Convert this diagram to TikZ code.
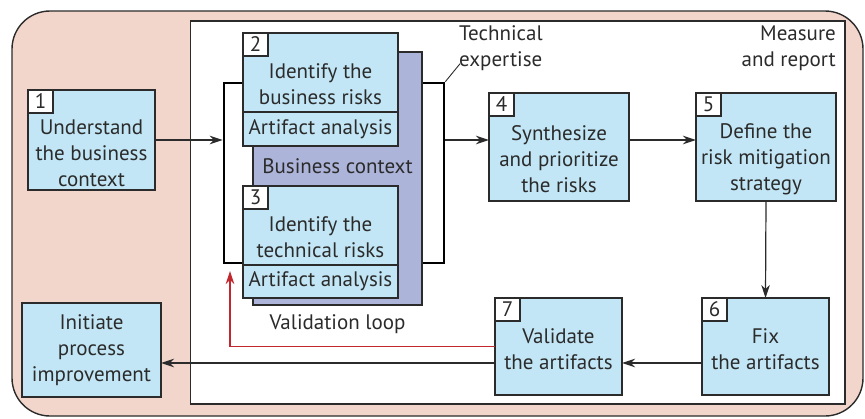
\documentclass[tikz,border=0pt]{standalone}
\usepackage{fontspec}
\setmainfont{PT Sans}
\usetikzlibrary{arrows.meta,positioning}
\definecolor{boxblue}{HTML}{C2E6F5}
\definecolor{ctxblue}{HTML}{ADB4D9}
\definecolor{outerpink}{HTML}{F2D5CB}
\definecolor{loopred}{HTML}{C1272D}
\definecolor{inkgray}{HTML}{2B2B2B}
\tikzset{
  stepbox/.style={draw=inkgray, fill=boxblue, line width=1.2pt, inner sep=0pt, outer sep=0pt, text=inkgray, align=center},
  numbox/.style={draw=inkgray, fill=white, line width=1.2pt, minimum width=25pt, minimum height=23pt, inner sep=0pt, outer sep=0pt, anchor=north west, text=inkgray},
  steptext/.style={align=center, text=inkgray, inner sep=0pt},
  flow/.style={draw=inkgray, line width=1.2pt, -{Stealth[length=13pt,width=8.5pt,inset=4pt]}},
}

\begin{document}
\begin{tikzpicture}[x=1pt,y=-1pt,font=\fontsize{21}{26}\selectfont]
	\useasboundingbox (0,0) rectangle (865,418);
	% frames
	\draw[draw=inkgray, fill=outerpink, line width=1.4pt, rounded corners=38pt] (12,11) rectangle (863,416);
	\draw[draw=inkgray, fill=white, line width=1.2pt] (190.5,21) rectangle (845,404);

	% validation loop with business context
	\node[draw=black, line width=2.6pt, minimum width=220pt, minimum height=180pt, inner sep=0pt] (loop) at (334,173) {};
	\node[draw=inkgray, fill=ctxblue, line width=1.2pt, minimum width=169pt, minimum height=253pt, inner sep=0pt] (ctx) at (337.5,178.5) {};
	\node[steptext] (ctxlabel) at (337.5,166) {Business context};

	\node[stepbox, minimum width=155pt, minimum height=79pt] (b2) at (320.5,72.5) {};
	\node[stepbox, minimum width=155pt, minimum height=34pt, below=0pt of b2] (a2) {Artifact analysis};
	\node[steptext] (t2) at (320.5,84.5) {Identify the\\business risks};
	\node[numbox] (n2) at (b2.north west) {2};

	\node[stepbox, minimum width=155pt, minimum height=79pt] (b3) at (320.5,225.5) {};
	\node[stepbox, minimum width=155pt, minimum height=33pt, below=0pt of b3] (a3) {Artifact analysis};
	\node[steptext] (t3) at (320.5,237) {Identify the\\technical risks};
	\node[numbox] (n3) at (b3.north west) {3};

	\node[steptext] (vlabel) at (337.5,324) {Validation loop};

	% steps
	\node[stepbox, minimum width=127pt, minimum height=100pt] (b1) at (91.5,140) {};
	\node[steptext] (t1) at (91.5,153) {Understand\\the business\\context};
	\node[numbox] (n1) at (b1.north west) {1};

	\node[stepbox, minimum width=140pt, minimum height=108pt] (b4) at (559,147) {};
	\node[steptext] (t4) at (559,159) {Synthesize\\and prioritize\\the risks};
	\node[numbox] (n4) at (b4.north west) {4};

	\node[stepbox, minimum width=140pt, minimum height=108pt] (b5) at (766,147) {};
	\node[steptext] (t5) at (766,159) {Define the\\risk mitigation\\strategy};
	\node[numbox] (n5) at (b5.north west) {5};

	\node[stepbox, minimum width=127pt, minimum height=97pt] (b6) at (765.5,346.5) {};
	\node[steptext] (t6) at (765.5,349.5) {Fix\\the artifacts};
	\node[numbox] (n6) at (b6.north west) {6};

	\node[stepbox, minimum width=127pt, minimum height=97pt] (b7) at (558.5,346.5) {};
	\node[steptext] (t7) at (558.5,349.5) {Validate\\the artifacts};
	\node[numbox] (n7) at (b7.north west) {7};

	\node[stepbox, minimum width=139pt, minimum height=94pt] (init) at (91.5,350) {Initiate\\process\\improvement};

	% labels
	\node[steptext, align=left, anchor=west] (tech) at (459,48) {Technical\\expertise};
	\node[steptext, align=right, anchor=east] (meas) at (836,48) {Measure\\and report};
	\draw[draw=inkgray, line width=0.9pt] (loop.north east) -- ([shift={(1pt,7pt)}]tech.south west);

	% connectors
	\draw[flow] (b1.east) -- (b1.east -| loop.west);
	\draw[flow] (b1.east -| loop.east) -- (b1.east -| b4.west);
	\draw[flow] (b1.east -| b4.east) -- (b1.east -| b5.west);
	\draw[flow] (b5.south) -- (b6.north);
	\draw[flow] ([yshift=-16.5pt]b6.west) -- ([yshift=-16.5pt]b6.west -| b7.east);
	\draw[flow] ([yshift=-16.5pt]b7.west) -- ([yshift=-16.5pt]b7.west -| init.east);
	\coordinate (vtip) at (230,271);
	\draw[flow, draw=loopred] (b7.west) -| (vtip);
\end{tikzpicture}
\end{document}
